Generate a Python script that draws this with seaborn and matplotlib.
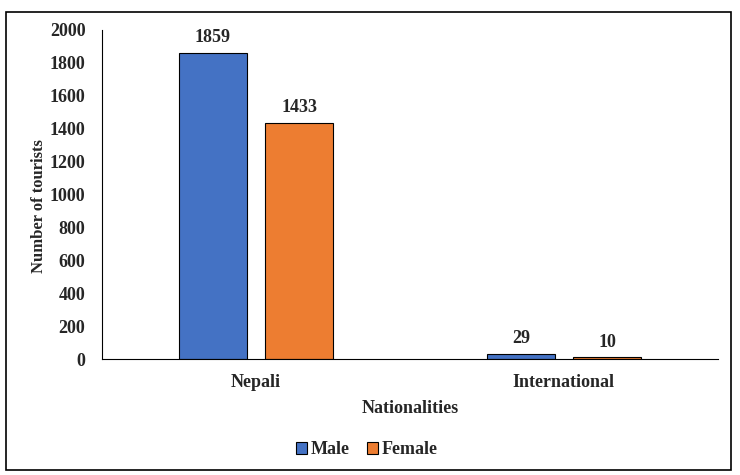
import matplotlib
matplotlib.use("Agg")
import matplotlib.pyplot as plt
import seaborn as sns
import pandas as pd
from matplotlib.patches import Rectangle

# data
nationalities = ["Nepali", "International"]
genders = ["Male", "Female"]
male_counts = [1859, 29]
female_counts = [1433, 10]
colors = {"Male": "#4472C4", "Female": "#ED7D31"}

df = pd.DataFrame({
    "Nationality": nationalities * 2,
    "Gender": ["Male"] * 2 + ["Female"] * 2,
    "Count": male_counts + female_counts,
})

sns.set_style("white")
plt.rcParams["font.family"] = ["Liberation Serif", "DejaVu Serif"]
plt.rcParams["font.weight"] = "bold"

fig = plt.figure(figsize=(7.4, 4.75), dpi=100)
ax = fig.add_axes([0.138, 0.244, 0.832, 0.693])

sns.barplot(data=df, x="Nationality", y="Count", hue="Gender",
            order=nationalities, hue_order=genders, palette=colors,
            saturation=1, width=0.56, gap=0.21, edgecolor="black",
            linewidth=0.8, ax=ax)

for cont in ax.containers:
    ax.bar_label(cont, padding=5, fontsize=13, fontweight="bold")

ax.set_ylim(0, 2000)
ax.set_yticks(range(0, 2001, 200))
ax.set_xlim(-0.5, 1.5)
ax.tick_params(axis="both", length=0, labelsize=13)
ax.tick_params(axis="y", pad=12)
ax.tick_params(axis="x", pad=11)
for lbl in ax.get_xticklabels() + ax.get_yticklabels():
    lbl.set_fontweight("bold")

for s in ["top", "right"]:
    ax.spines[s].set_visible(False)
ax.spines["left"].set_color("black")
ax.spines["bottom"].set_color("black")
ax.spines["left"].set_linewidth(0.8)
ax.spines["bottom"].set_linewidth(0.8)

ax.set_xlabel("Nationalities", fontsize=13, fontweight="bold", labelpad=6)
ax.set_ylabel("Number of tourists", fontsize=12, fontweight="bold")
ax.yaxis.set_label_coords(-0.09, 0.465)

ax.legend(loc="upper center", bbox_to_anchor=(0.43, -0.2), ncol=2,
          frameon=False, fontsize=13, handlelength=0.6, handleheight=0.6,
          handletextpad=0.2, columnspacing=1.0)
for t in ax.get_legend().get_texts():
    t.set_fontweight("bold")

# border around the whole chart
fig.patches.append(Rectangle((0.008, 0.0105), 0.98, 0.964, transform=fig.transFigure,
                             fill=False, edgecolor="black", linewidth=1.2))

plt.savefig("out.png", dpi=100)
